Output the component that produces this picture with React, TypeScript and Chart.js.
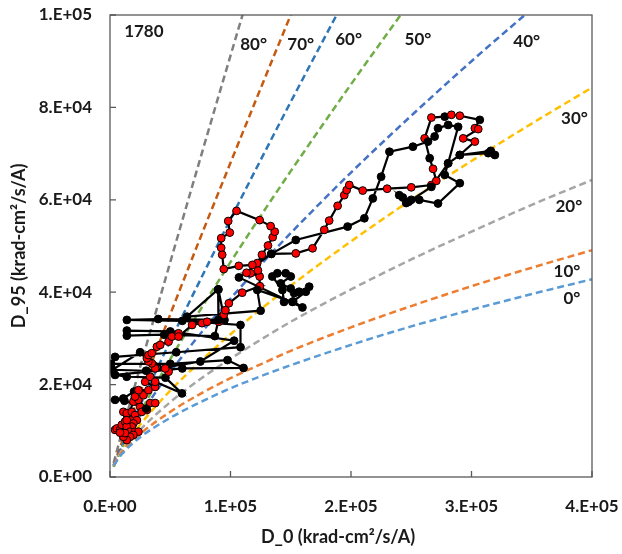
import React, { useEffect, useRef } from "react";
import { Chart, registerables } from "chart.js";

Chart.register(...registerables);

// ---------- Reference curves (values in thousands) ----------
const curveX = [3, 10, 25, 50, 75, 100, 125, 150, 200, 250, 300, 350, 400];
const curve0 = [2.5, 5.0, 8.6, 12.8, 16.2, 19.2, 21.8, 24.2, 28.6, 32.6, 36.2, 39.6, 42.8];
const curve10 = [2.6, 5.4, 9.3, 14.1, 18.0, 21.4, 24.4, 27.3, 32.4, 37.0, 41.3, 45.3, 49.1];
const curve20 = [2.5, 5.6, 10.2, 16.2, 21.2, 25.6, 29.7, 33.6, 40.6, 47.1, 53.1, 58.9, 64.3];
const curve30 = [2.4, 5.8, 11.3, 18.7, 25.0, 30.9, 36.3, 41.4, 51.0, 60.0, 68.4, 76.5, 84.3];
const curve40 = [2.6, 6.6, 13.3, 22.7, 31.0, 38.6, 45.9, 52.8, 65.9, 78.2, 90.0, 101.3];
const curve50 = [2.2, 6.3, 13.9, 25.5, 36.2, 46.5, 56.5, 66.2, 85.0, 103.2];
const curve60 = [2.2, 6.6, 15.5, 29.4, 42.7, 55.8, 68.6, 81.2, 105.9];
const curve70 = [2.4, 7.6, 18.2, 35.2, 51.8, 68.0, 84.1, 100.0, 131.4];
const curve80 = [3.0, 9.8, 23.8, 46.5, 69.0, 91.2, 113.2];

const curveNames = ["0°", "10°", "20°", "30°", "40°", "50°", "60°", "70°", "80°"];
const curveColors = ["#5B9BD5", "#ED7D31", "#A5A5A5", "#FFC000", "#4472C4", "#70AD47", "#2E75B6", "#C55A11", "#7F7F7F"];
const curveValues = [curve0, curve10, curve20, curve30, curve40, curve50, curve60, curve70, curve80];

// label positions (thousands)
const labelX = [383.3, 379.2, 380.8, 385.4, 345.8, 255.6, 198, 158.3, 119.2];
const labelY = [38.7, 44.4, 58.5, 77.5, 94.2, 94.6, 94.6, 93.7, 93.7];
const runLabel = "1780";
const runLabelPos = [28.1, 96.4];

// ---------- Measured trajectory (thousands), red flag 1 = red marker ----------
const d0 = [
  4.2, 5.6, 8.3, 9.8, 12.5, 11.1, 13.9, 18.1, 20.8, 22.3, 16.7, 19.4, 18.1, 13.9, 16.7, 20.8, 23.6, 19.4, 16.7, 13.9, 11.1, 12.5, 8.3, 13.9, 19.4, 25, 30.6, 26.4, 33.3, 37.5,
  30, 12, 4.2, 11.1, 20, 23.6, 20.8, 27.8, 23.6, 31.9, 37.5, 29.2, 33.3, 37.5, 59.7, 46, 13.9, 4.2, 60, 110.8, 97.5, 50, 1, 4.2, 55, 108.3, 108.3, 60, 14, 40, 95, 90, 90, 87, 45, 14, 14, 50, 103, 75, 30, 2, 25,
  48.6, 45.8, 37.5, 34.7, 31.9, 30.6, 31.9, 34.7, 38.9, 41.7, 48.6, 51.4, 56.9, 56.9, 68.1, 76.4, 80.6, 90.3, 94.4, 95.8, 98.6, 109.7, 124.4, 124.2, 116.7, 113.3, 122.8, 122.2, 126.1, 131.1, 135, 136.7, 133.3, 124.2, 105, 98.1, 99.4, 92.3, 92.3, 93.1, 94.4, 106.9, 118.1, 133.9, 154.2, 168.1, 177.8, 181.9, 188.9, 194.4, 196.4, 198.6, 209.7, 230, 250, 266.7, 270.8, 268.1,
  265.3, 261.1, 266.7, 277.8, 283.3, 290.3, 306.9, 302.8, 305.6, 293.1, 302.8,
  290.3, 313.9, 319.4, 316, 290.3, 280.6, 277.8, 290.3, 272.2, 256.7, 250, 245.8, 240, 243, 248, 266.7, 280.6, 288.9, 280.6, 272.2, 269.4, 263.9, 251.4, 231.9, 225, 218.1, 211.1, 197.2, 154.2, 133.9,
  107, 159.7, 152, 144.4, 143.1, 134.7, 138.9, 145.8, 150, 141.7, 150, 152.8, 156.9, 165.3, 162.5, 151.4, 122.2, 125, 63.9, 89.7, 90,
];
const d95 = [
  10.2, 10.5, 10.2, 11.3, 12.0, 14.1, 13.8, 14.1, 13.4, 12.3, 12.3, 11.6, 10.9, 10.9, 9.8, 9.8, 9.8, 9.1, 8.7, 8.0, 8.7, 9.5, 9.6, 12.3, 16.3, 15.2, 14.5, 14.1, 16.0, 16.0,
  14.8, 16.5, 16.7, 17.0, 18.5, 16.7, 17.4, 17.7, 18.8, 18.8, 19.5, 20.6, 21.7, 20.6, 18.1, 21.5, 21.7, 22.1, 23.5, 23.6, 25.3, 24.5, 24.5, 26.0, 27, 28.1, 32.9, 33.8, 34.0, 34.2, 34.0, 40.6, 34.0, 30.5, 30.8, 30.6, 31.7, 31.5, 29.5, 25, 23, 23.2, 27,
  22.8, 23.5, 23.5, 24.6, 25.0, 25.7, 26.4, 26.8, 28.2, 28.6, 29.3, 30.4, 31.1, 30.4, 32.9, 33.3, 33.6, 33.6, 35.1, 36.1, 37.6, 39.9, 41.3, 43.4, 44.1, 44.2, 44.7, 46.3, 48.1, 50.1, 51.9, 53.1, 54.3, 55.6, 57.6, 55.4, 52.9, 51.7, 49.6, 48.1, 45.0, 45.7, 45.9, 48.3, 48.4, 49.5, 53.5, 55.5, 58.7, 61.0, 62.1, 63.2, 62.0, 62.4, 62.7, 63.2, 64.1, 66.7,
  69.0, 73.3, 77.8, 78.0, 78.4, 78.2, 77.3, 75.5, 75.3, 73.3, 72.6,
  69.7, 70.1, 69.7, 70.6, 69.7, 67.9, 65.4, 63.6, 59.2, 60.0, 60.0, 59.3, 61.0, 60.5, 59.6, 62.8, 67.9, 75.8, 76.2, 75.5, 73.7, 72.6, 71.5, 70.4, 65.0, 60.3, 56.0, 54.2, 51.3, 48.3,
  43.2, 36.7, 38, 37.9, 40.5, 43.4, 44.1, 44.1, 43.4, 41.9, 40.8, 39.8, 40.1, 41.2, 40.1, 37.9, 40.5, 36.0, 34.7, 40.6, 34.0,
];
const redFlag = [
  1, 1, 1, 1, 1, 1, 1, 1, 1, 1, 1, 1, 1, 1, 1, 1, 1, 1, 1, 1, 1, 1, 1, 1, 1, 1, 1, 1, 1, 1,
  0, 0, 0, 0, 0, 1, 1, 1, 1, 1, 1, 1, 1, 1, 0, 0, 0, 0, 0, 0, 0, 0, 0, 0, 0, 0, 0, 0, 0, 0, 0, 0, 0, 0, 0, 0, 0, 0, 0, 0, 0, 0, 0,
  1, 1, 1, 1, 1, 1, 1, 1, 1, 1, 1, 1, 1, 1, 1, 1, 1, 1, 1, 1, 1, 1, 1, 1, 1, 1, 1, 1, 1, 1, 1, 1, 1, 1, 1, 1, 1, 1, 1, 1, 1, 1, 1, 0, 1, 1, 1, 1, 1, 1, 1, 1, 1, 1, 1, 1, 1, 1,
  0, 1, 1, 0, 1, 1, 0, 1, 1, 1, 1,
  0, 0, 0, 0, 0, 0, 0, 0, 0, 0, 0, 0, 0, 0, 0, 0, 0, 0, 0, 0, 0, 0, 0, 0, 0, 0, 0, 0, 0, 0,
  0, 0, 0, 0, 0, 0, 0, 0, 0, 0, 0, 0, 0, 0, 0, 0, 0, 0, 0, 0, 0,
];

const xTicks = [0, 100000, 200000, 300000, 400000];
const yTicks = [0, 20000, 40000, 60000, 80000, 100000];
const xTitle = "D_0 (krad-cm²/s/A)";
const yTitle = "D_95 (krad-cm²/s/A)";

const FONT = "Lato, 'Open Sans', sans-serif";

function sci(v: number): string {
  if (v === 0) return "0.E+00";
  const e = Math.floor(Math.log10(v) + 1e-9);
  const m = Math.round(v / Math.pow(10, e));
  return `${m}.E+${String(e).padStart(2, "0")}`;
}

const decor = {
  id: "decor",
  afterDraw(chart: any) {
    const { ctx, chartArea: a, scales } = chart;
    const x = scales.x;
    const y = scales.y;
    ctx.save();
    ctx.strokeStyle = "#595959";
    ctx.lineWidth = 1.3;
    ctx.strokeRect(a.left, a.top, a.right - a.left, a.bottom - a.top);
    ctx.beginPath();
    for (const v of xTicks) {
      const px = x.getPixelForValue(v);
      ctx.moveTo(px, a.bottom);
      ctx.lineTo(px, a.bottom - 6);
    }
    for (const v of yTicks) {
      const py = y.getPixelForValue(v);
      ctx.moveTo(a.left, py);
      ctx.lineTo(a.left + 6, py);
    }
    ctx.stroke();

    ctx.fillStyle = "#1a1a1a";
    ctx.textAlign = "center";
    ctx.textBaseline = "middle";
    ctx.font = `bold 17px ${FONT}`;
    curveNames.forEach((t, i) => {
      ctx.fillText(t, x.getPixelForValue(labelX[i] * 1000), y.getPixelForValue(labelY[i] * 1000));
    });
    ctx.fillText(runLabel, x.getPixelForValue(runLabelPos[0] * 1000), y.getPixelForValue(runLabelPos[1] * 1000));

    ctx.font = `bold 18px ${FONT}`;
    ctx.fillText(xTitle, (a.left + a.right) / 2 - 13, a.bottom + 60);
    ctx.translate(11, (a.top + a.bottom) / 2);
    ctx.rotate(-Math.PI / 2);
    ctx.fillText(yTitle, 0, 0);
    ctx.restore();
  },
};

export default function App() {
  const ref = useRef<HTMLCanvasElement | null>(null);

  useEffect(() => {
    if (!ref.current) return;
    const curveSets = curveValues.map((vals, i) => ({
      label: curveNames[i],
      data: vals.map((v, j) => ({ x: curveX[j] * 1000, y: v * 1000 })),
      showLine: true,
      borderColor: curveColors[i],
      borderWidth: 2.5,
      borderDash: [7, 4],
      pointRadius: 0,
      cubicInterpolationMode: "monotone" as const,
      order: 2,
    }));
    const traj = {
      label: runLabel,
      data: d0.map((v, i) => ({ x: v * 1000, y: d95[i] * 1000 })),
      showLine: true,
      borderColor: "#000000",
      borderWidth: 2.2,
      pointRadius: 3.9,
      pointBorderWidth: 1,
      pointBorderColor: "#000000",
      pointBackgroundColor: redFlag.map((f) => (f ? "#FF0000" : "#000000")),
      tension: 0,
      order: 1,
    };
    const chart = new Chart(ref.current, {
      type: "scatter",
      data: { datasets: [traj, ...curveSets] as any },
      options: {
        animation: false,
        responsive: false,
        devicePixelRatio: 1,
        layout: { padding: { left: 0, right: 30, top: 7, bottom: 0 } },
        plugins: { legend: { display: false }, tooltip: { enabled: false } },
        scales: {
          x: {
            type: "linear",
            min: 0,
            max: 400000,
            grid: { display: false, drawTicks: false },
            border: { display: false },
            ticks: {
              stepSize: 100000,
              padding: 19,
              color: "#1a1a1a",
              font: { family: FONT, size: 17, weight: "bold" },
              callback: (v: any) => sci(Number(v)),
              maxRotation: 0,
            },
            afterFit: (s: any) => {
              s.height = 77;
              s.paddingLeft = 0;
              s.paddingRight = 0;
            },
          },
          y: {
            type: "linear",
            min: 0,
            max: 100000,
            grid: { display: false, drawTicks: false },
            border: { display: false },
            ticks: {
              stepSize: 20000,
              padding: 18,
              color: "#1a1a1a",
              font: { family: FONT, size: 17, weight: "bold" },
              callback: (v: any) => sci(Number(v)),
            },
            afterFit: (s: any) => {
              s.width = 102;
              s.paddingTop = 0;
              s.paddingBottom = 0;
            },
          },
        },
      },
      plugins: [decor],
    });
    return () => chart.destroy();
  }, []);

  return (
    <div style={{ position: "absolute", left: 8, top: 8, width: 614, height: 546 }}>
      <canvas ref={ref} width={614} height={546} style={{ display: "block" }} />
    </div>
  );
}
